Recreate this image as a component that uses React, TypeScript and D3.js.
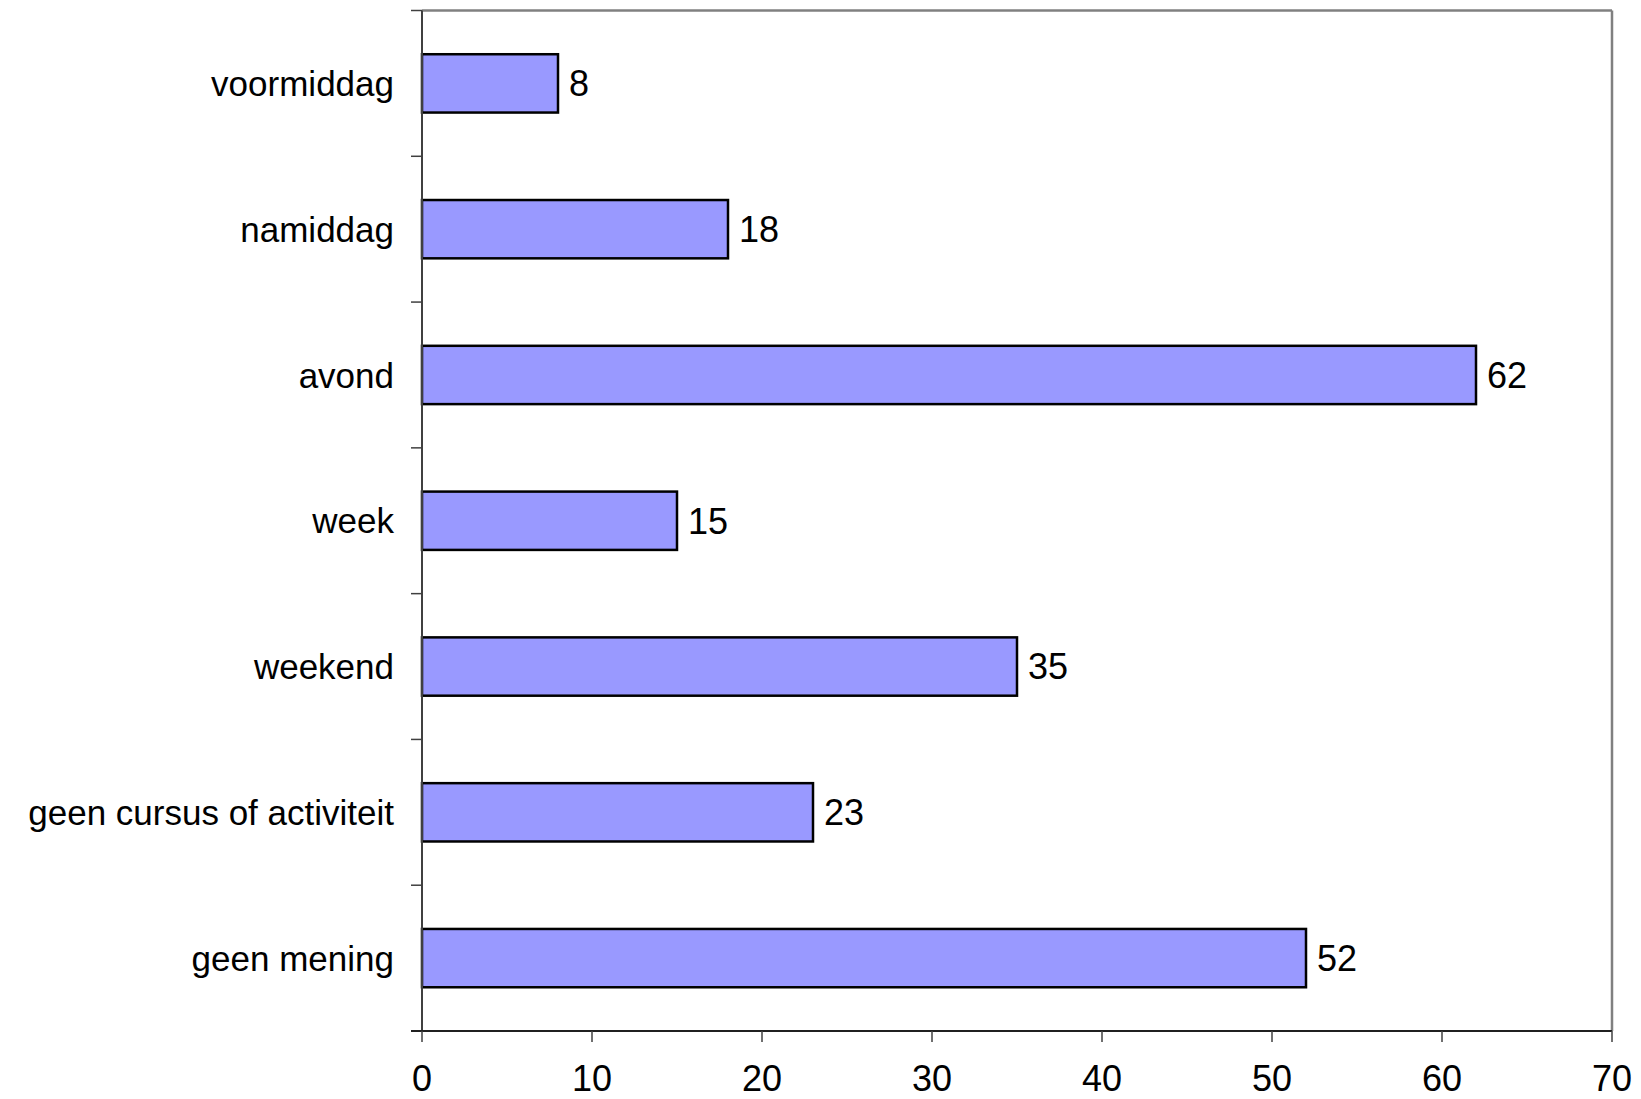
import React from "react";
import * as d3 from "d3";

const categories = [
  "voormiddag",
  "namiddag",
  "avond",
  "week",
  "weekend",
  "geen cursus of activiteit",
  "geen mening",
];
const values = [8, 18, 62, 15, 35, 23, 52];
const xTicks = [0, 10, 20, 30, 40, 50, 60, 70];

const W = 1641;
const H = 1099;
const left = 422;
const right = 1612;
const top = 10.5;
const bottom = 1031;
const font = "'Liberation Sans', Arial, sans-serif";

export default function App() {
  const x = d3.scaleLinear().domain([0, 70]).range([left, right]);
  const y = d3
    .scaleBand<string>()
    .domain(categories)
    .range([top, bottom])
    .paddingInner(0.6)
    .paddingOuter(0.3);
  const step = y.step();
  const boundaries = d3.range(categories.length + 1).map((i) => top + i * step);

  return (
    <svg
      width={W}
      height={H}
      style={{ position: "absolute", left: 0, top: 0, background: "#fff" }}
      fontFamily={font}
    >
      <rect x={0} y={0} width={W} height={H} fill="#fff" />
      {/* plot frame */}
      <line x1={left} x2={right} y1={top} y2={top} stroke="#808080" strokeWidth={2.5} />
      <line x1={right} x2={right} y1={top} y2={bottom} stroke="#808080" strokeWidth={2.5} />
      {/* bars */}
      {categories.map((c, i) => (
        <g key={c}>
          <rect
            x={x(0)}
            y={y(c)!}
            width={x(values[i]) - x(0)}
            height={y.bandwidth()}
            fill="#9999FF"
            stroke="#000"
            strokeWidth={2.5}
          />
          <text
            x={x(values[i]) + 11}
            y={y(c)! + y.bandwidth() / 2}
            dy="0.36em"
            fontSize={36}
            fill="#000"
          >
            {values[i]}
          </text>
          <text
            x={394}
            y={y(c)! + y.bandwidth() / 2}
            dy="0.36em"
            fontSize={35}
            textAnchor="end"
            fill="#000"
          >
            {c}
          </text>
        </g>
      ))}
      {/* left axis */}
      <line x1={left} x2={left} y1={top} y2={bottom} stroke="#404040" strokeWidth={2} />
      {boundaries.map((b, i) => (
        <line key={i} x1={411} x2={left} y1={b} y2={b} stroke="#404040" strokeWidth={1.5} />
      ))}
      {/* bottom axis */}
      <line x1={left - 11} x2={right} y1={bottom} y2={bottom} stroke="#202020" strokeWidth={2} />
      {xTicks.map((t) => (
        <g key={t}>
          <line x1={x(t)} x2={x(t)} y1={bottom} y2={bottom + 11} stroke="#404040" strokeWidth={1.5} />
          <text x={x(t)} y={1091} fontSize={36} textAnchor="middle" fill="#000">
            {t}
          </text>
        </g>
      ))}
    </svg>
  );
}
